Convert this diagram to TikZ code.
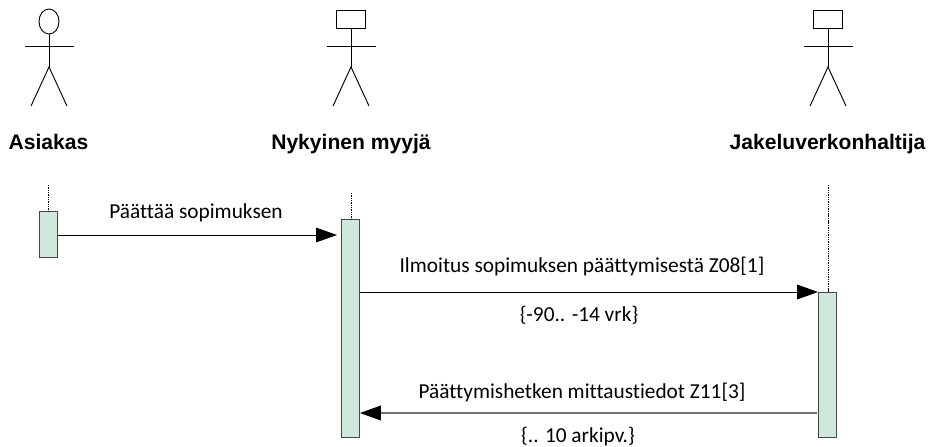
\documentclass[tikz,border=0pt]{standalone}
\usepackage{fontspec}
\setmainfont[Ligatures=NoCommon]{Carlito}
\newfontfamily\actorfont{Liberation Sans}
\usetikzlibrary{shapes.geometric, arrows.meta, positioning}
\definecolor{barfill}{RGB}{207,232,220}
\definecolor{bardraw}{RGB}{70,70,70}
\tikzset{
  actorline/.style={draw=black, line width=0.8pt},
  actorname/.style={font=\actorfont\bfseries\fontsize{18}{20}\selectfont, inner sep=0pt, anchor=base},
  msgtext/.style={font=\fontsize{18.2}{20}\selectfont, inner sep=0pt, anchor=base},
  bar/.style={rectangle, draw=bardraw, fill=barfill, line width=0.7pt, minimum width=0.54cm, inner sep=0pt},
  life/.style={dash pattern=on 1.2pt off 0.8pt, line width=0.6pt, black},
  msg/.style={-{Triangle[length=0.63cm, width=0.44cm, color=black]}, line width=0.8pt}
}
\begin{document}
\begin{tikzpicture}[x=0.03cm, y=-0.03cm]
   \useasboundingbox (0,0) rectangle (930,446);
        % Actors
        \node (headA) [ellipse, draw, line width=0.8pt, minimum width=0.6cm, minimum height=0.75cm, inner sep=0pt] at (49,21.5) {};
        \node (headB) [rectangle, draw, line width=0.8pt, minimum width=0.85cm, minimum height=0.55cm, inner sep=0pt] at (351,19.3) {};
        \node (headC) [rectangle, draw, line width=0.8pt, minimum width=0.88cm, minimum height=0.55cm, inner sep=0pt] at (828,19.3) {};
        \foreach \who/\x in {A/49, B/351, C/828} {
            \coordinate (hip\who) at (\x,67);
            \draw[actorline] (head\who) -- (hip\who);
            \draw[actorline] (\x-24.5,46) -- (\x+24.5,46);
            \draw[actorline] (\x-18,106) -- (hip\who) -- (\x+18,106);
        }
        \node (asiakas) [actorname] at (48.5,149) {Asiakas};
        \node (myyja) [actorname] at (351,149) {Nykyinen myyjä};
        \node (jakelu) [actorname] at (827.5,149) {Jakeluverkonhaltija};

        % Bars
        \node (barA) [bar, minimum height=1.38cm, anchor=north] at (48.5,211) {};
        \node (barB) [bar, minimum height=6.54cm, anchor=north] at (350.5,219) {};
        \node (barC) [bar, minimum height=4.35cm, anchor=north] at (827.5,292) {};

        % Lifelines
        \coordinate (topA) at (48.5,185);
        \coordinate (topB) at (351,193);
        \coordinate (topC) at (828.5,185);
        \draw[life] (topA) -- (topA |- barA.north);
        \draw[life] (topB) -- (topB |- barB.north);
        \draw[life] (topC) -- (topC |- barC.north);

        % Messages
        \coordinate (endA) at (337,235);
        \draw[msg] (barA.east |- endA) -- (endA);
        \draw[msg] (barB.north east |- barC.north) -- (barC.north west);
        \coordinate (startD) at (816.5,413);
        \draw[msg, line width=1.3pt, black!55] (startD) -- (barB.east |- startD);

        % Message labels
        \node (lblA) [msgtext] at (196,218.5) {Päättää sopimuksen};
        \node (lblB) [msgtext] at (582,272.5) {Ilmoitus sopimuksen päättymisestä Z08[1]};
        \node (lblC) [msgtext] at (579,321) {\{-90.. -14 vrk\}};
        \node (lblD) [msgtext] at (582,398) {Päättymishetken mittaustiedot Z11[3]};
        \node (lblE) [msgtext] at (578,442) {\{.. 10 arkipv.\}};
\end{tikzpicture}
\end{document}
